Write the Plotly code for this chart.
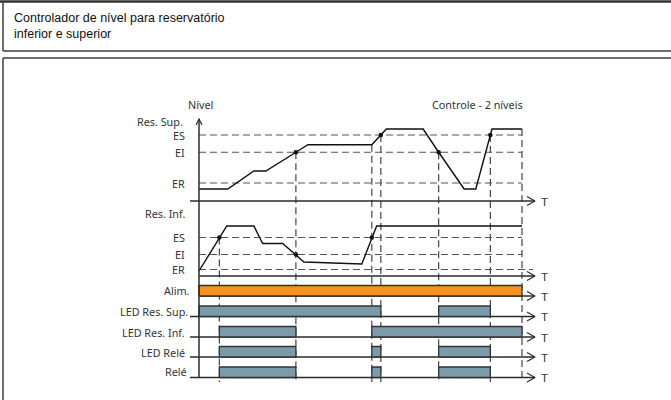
import numpy as np
import plotly.graph_objects as go

# ---------------- data (time in arbitrary units, 0..100) ----------------
# upper reservoir level
sup_t = [0, 8.9, 17.0, 20.7, 30.0, 33.7, 53.5, 56.3, 58.0, 69.4, 74.2, 82.1, 85.7, 90.2, 90.7, 100]
sup_lvl = [16, 16, 40, 40, 65, 75, 75, 88, 96, 96, 65, 16, 16, 88, 96, 96]
sup_thr_names = ["ES", "EI", "ER"]
sup_thr_vals = [88, 65, 24]
sup_marks_t = [30.0, 56.3, 74.2, 90.2]

# lower reservoir level
inf_t = [0, 6.3, 8.6, 17.0, 19.7, 25.9, 30.0, 32.5, 50.4, 53.5, 55.0, 100]
inf_lvl = [10, 77, 100, 100, 65, 65, 43, 28, 24, 77, 100, 100]
inf_thr_names = ["ES", "EI", "ER"]
inf_thr_vals = [77, 43, 13]
inf_marks_t = [6.3, 30.0, 53.5]

# switching instants and the panel each one is triggered in
event_t = [6.3, 30.0, 53.5, 56.3, 74.2, 90.2, 100]
event_src = ["inf", "sup", "sup", "sup", "sup", "sup", "sup"]

# digital signals (on / off instants)
signal_names = ["Alim.", "LED Res. Sup.", "LED Res. Inf.", "LED Relé", "Relé"]
alim_on, alim_off = [0], [100]
led_sup_on, led_sup_off = [0, 74.2], [56.3, 90.2]
led_inf_on, led_inf_off = [6.3, 53.5], [30.0, 100]
led_rele_on, led_rele_off = [6.3, 53.5, 74.2], [30.0, 56.3, 90.2]
rele_on, rele_off = [6.3, 53.5, 74.2], [30.0, 56.3, 90.2]
t_end = 100

# ---------------- layout geometry ----------------
W, H = 671, 400
X0, KX = 199, 3.23          # pixel of t=0, pixels per time unit


def tx(px):
    return (px - X0) / KX


# axis key -> (axis id, baseline pixel, pixels per unit)
AX = {
    "sup": ("y", 201, 0.75),
    "inf": ("y2", 276, 0.5),
    "s0": ("y3", 296, 10.5),
    "s1": ("y4", 316.5, 10.5),
    "s2": ("y5", 337, 10.5),
    "s3": ("y6", 357, 10.5),
    "s4": ("y7", 377.5, 10.5),
}


def to_px(key, v):
    _, b, k = AX[key]
    return b - v * k


def to_paper(py):
    return 1 - py / H


def u(key, px):
    """pixel offset expressed in units of an axis"""
    return px / AX[key][2]


INK = "#2b2b2b"
DASH_COL = "#555555"
LBL_FONT = dict(family="Noto Sans", size=10.8, color="#333333")

fig = go.Figure()


def add_line(key, x, y, color=INK, width=1.4, dash=None):
    fig.add_trace(go.Scatter(
        x=x, y=y, mode="lines", yaxis=AX[key][0], hoverinfo="skip",
        line=dict(color=color, width=width, dash=dash), showlegend=False))


def add_time_axis(key, t_start):
    add_line(key, [t_start, tx(535)], [0, 0], width=1.5)
    add_line(key, [tx(527), tx(535), tx(527)], [u(key, 4.5), 0, -u(key, 4.5)], width=1.2)


# ---- analog panels ----
for key, tt, lv, names, vals, marks, t0 in [
    ("sup", sup_t, sup_lvl, sup_thr_names, sup_thr_vals, sup_marks_t, tx(190)),
    ("inf", inf_t, inf_lvl, inf_thr_names, inf_thr_vals, inf_marks_t, 0),
]:
    for i, v in enumerate(vals):
        t_stop = t_end + (tx(533) - t_end if (key == "inf" and i == len(vals) - 1) else 0)
        add_line(key, [0, t_stop], [v, v], color=DASH_COL, width=1.2, dash="7px,4px")
    add_time_axis(key, t0)
    add_line(key, tt, lv, color="#111111", width=1.4)
    fig.add_trace(go.Scatter(
        x=marks, y=np.interp(marks, tt, lv), mode="markers", yaxis=AX[key][0],
        marker=dict(color="#111111", size=4.5), hoverinfo="skip", showlegend=False))

# ---- digital signals ----
pulses = [
    (alim_on, alim_off, "#F7921E"),
    (led_sup_on, led_sup_off, "#7B9AAA"),
    (led_inf_on, led_inf_off, "#7B9AAA"),
    (led_rele_on, led_rele_off, "#7B9AAA"),
    (rele_on, rele_off, "#7B9AAA"),
]
for i, (ons, offs, col) in enumerate(pulses):
    key = f"s{i}"
    add_time_axis(key, 0 if i == 0 else tx(190))
    for a, b in zip(ons, offs):
        fig.add_trace(go.Scatter(
            x=[a, a, b, b, a], y=[0, 1, 1, 0, 0], mode="lines", fill="toself",
            fillcolor=col, yaxis=AX[key][0], hoverinfo="skip", showlegend=False,
            line=dict(color="#333333", width=1.3)))

# ---- vertical event markers ----
bottom_px = 382
for t, src in zip(event_t, event_src):
    lv = np.interp(t, sup_t, sup_lvl) if src == "sup" else np.interp(t, inf_t, inf_lvl)
    fig.add_shape(type="line", xref="x", yref="paper", x0=t, x1=t,
                  y0=to_paper(to_px(src, lv)), y1=to_paper(bottom_px),
                  line=dict(color="#444444", width=1.2, dash="7px,4px"), layer="below")

# ---- level (vertical) axis with arrow ----
top_px = 119
fig.add_shape(type="line", xref="x", yref="paper", x0=0, x1=0,
              y0=to_paper(top_px), y1=to_paper(378), line=dict(color=INK, width=1.5))
fig.add_shape(type="path", xref="x", yref="paper",
              path=f"M {tx(196)},{to_paper(125)} L 0,{to_paper(top_px)} L {tx(202)},{to_paper(125)}",
              line=dict(color=INK, width=1.2))

# ---- text ----
ann = []


def label(text, px, key_or_py, v=None, anchor="right", font=LBL_FONT):
    py = to_px(key_or_py, v) if v is not None else key_or_py
    ann.append(dict(text=text, x=tx(px), xref="x", y=to_paper(py), yref="paper",
                    xanchor=anchor, yanchor="middle", showarrow=False, font=font))


label("Nível", 200, 104, anchor="center")
label("Controle - 2 níveis", 477, 105, anchor="center")
label("Res. Sup.", 185, 122)
for n, v in zip(sup_thr_names, sup_thr_vals):
    label(n, 187, "sup", v)
label("Res. Inf.", 188, 213)
for n, v in zip(inf_thr_names, inf_thr_vals):
    label(n, 187, "inf", v)
sig_label_px = [192, 190, 187, 187, 189]
sig_label_off = [6, 5, 5, 5, 6]
for i, n in enumerate(signal_names):
    label(n, sig_label_px[i], AX[f"s{i}"][1] - sig_label_off[i])
for key in AX:
    label("T", 544, AX[key][1] + 0.5, anchor="center",
          font=dict(family="Liberation Sans", size=11.5, color="#333333"))

title_font = dict(family="Liberation Sans", size=12.5, color="#111111")
ann.append(dict(text="Controlador de nível para reservatório", x=12 / W, y=to_paper(18),
                xref="paper", yref="paper", xanchor="left", yanchor="middle",
                showarrow=False, font=title_font))
ann.append(dict(text="inferior e superior", x=12 / W, y=to_paper(34),
                xref="paper", yref="paper", xanchor="left", yanchor="middle",
                showarrow=False, font=title_font))

# ---- frames ----
frame = dict(color="#3c3c3c", width=1.5)
fig.add_shape(type="line", xref="paper", yref="paper", x0=0, x1=1,
              y0=to_paper(1.5), y1=to_paper(1.5), line=dict(color="#333333", width=2.5))
fig.add_shape(type="line", xref="paper", yref="paper", x0=3 / W, x1=3 / W,
              y0=to_paper(1.5), y1=to_paper(51), line=frame)
fig.add_shape(type="line", xref="paper", yref="paper", x0=3 / W, x1=1,
              y0=to_paper(51), y1=to_paper(51), line=frame)
fig.add_shape(type="line", xref="paper", yref="paper", x0=3 / W, x1=1,
              y0=to_paper(58), y1=to_paper(58), line=frame)
fig.add_shape(type="line", xref="paper", yref="paper", x0=3 / W, x1=3 / W,
              y0=to_paper(58), y1=0, line=frame)

# ---- axes ----
layout_axes = {}
for key, (aid, b, k) in AX.items():
    name = "yaxis" if aid == "y" else "yaxis" + aid[1:]
    spec = dict(range=[(b - H) / k, b / k], visible=False, fixedrange=True, domain=[0, 1])
    if aid != "y":
        spec["overlaying"] = "y"
    layout_axes[name] = spec

fig.update_layout(
    width=W, height=H, autosize=False,
    margin=dict(l=0, r=0, t=0, b=0, pad=0),
    paper_bgcolor="white", plot_bgcolor="white",
    xaxis=dict(range=[tx(0), tx(W)], visible=False, fixedrange=True, domain=[0, 1]),
    annotations=ann, showlegend=False,
    **layout_axes,
)

fig.write_html("out.html")
